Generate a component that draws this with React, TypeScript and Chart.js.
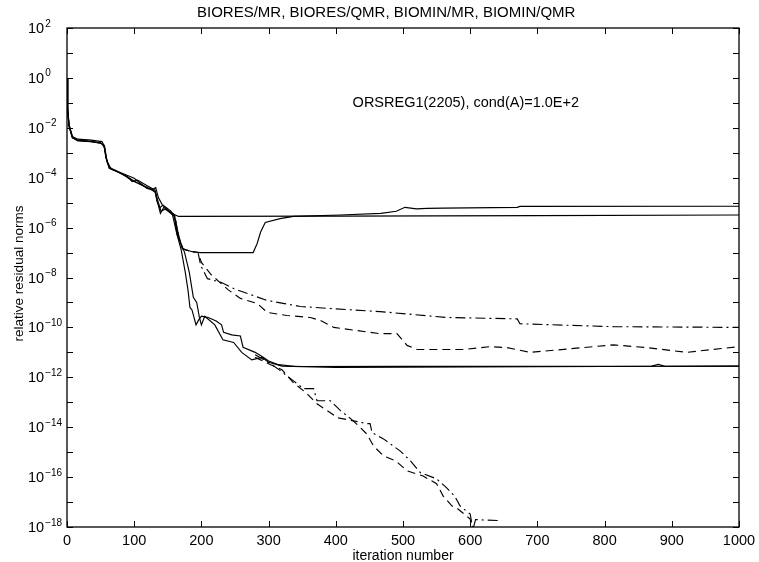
import React, { useEffect, useRef } from 'react';
import { Chart, registerables } from 'chart.js';

Chart.register(...registerables);

// ---------- text ----------
const titleText = 'BIORES/MR, BIORES/QMR, BIOMIN/MR, BIOMIN/QMR';
const xAxisLabel = 'iteration number';
const yAxisLabel = 'relative residual norms';
const noteText = 'ORSREG1(2205), cond(A)=1.0E+2';
const noteAt = { x: 425, y: 1e-1 };
const titleAtIter = 475;

// ---------- ticks ----------
const xTickValues = [0, 100, 200, 300, 400, 500, 600, 700, 800, 900, 1000];
const yLabelExponents = [2, 0, -2, -4, -6, -8, -10, -12, -14, -16, -18];
const yTickExponents = [2, 1, 0, -1, -2, -3, -4, -5, -6, -7, -8, -9, -10, -11, -12, -13, -14, -15, -16, -17, -18];

// ---------- series (iteration, relative residual norm) ----------
// solid: stagnates near 3e-6
const solidAIter = [0, 1, 3, 8, 16, 36, 50, 55, 58, 63, 70, 82, 100, 119, 131, 134, 139, 144, 150, 158, 166, 400, 700, 1000];
const solidAVal = [1, 5e-2, 1.26e-2, 4.2e-3, 3.2e-3, 2.9e-3, 2.5e-3, 2e-3, 6.6e-4, 2.4e-4, 2e-4, 1.5e-4, 9.5e-5, 3.7e-5, 3.2e-5, 1.26e-5, 3.7e-6, 6.5e-6, 4.9e-6, 3.5e-6, 2.8e-6, 2.9e-6, 3.0e-6, 3.2e-6];

// solid: dips to 1e-7 then rises to ~7e-6
const solidBIter = [0, 1, 3, 8, 16, 36, 52, 56, 59, 64, 75, 90, 97, 105, 118, 128, 132, 136, 142, 148, 155, 160, 164, 172, 185, 198, 277, 283, 288, 295, 317, 337, 407, 467, 490, 503, 520, 536, 560, 670, 674, 1000];
const solidBVal = [1, 6.3e-2, 1.4e-2, 4.5e-3, 3.5e-3, 3.2e-3, 2.8e-3, 1.8e-3, 5e-4, 2.5e-4, 1.8e-4, 1.1e-4, 7e-5, 8e-5, 5e-5, 3.5e-5, 4e-5, 1.6e-5, 8e-6, 6.3e-6, 4.5e-6, 2.5e-6, 5e-7, 1.4e-7, 1.1e-7, 1e-7, 1e-7, 2.3e-7, 6.5e-7, 1.6e-6, 2.3e-6, 2.8e-6, 3.2e-6, 3.7e-6, 4.5e-6, 6.5e-6, 5.6e-6, 5.9e-6, 6e-6, 6.5e-6, 7.1e-6, 7.2e-6];

// solid: stagnates near 2.8e-12
const solidCIter = [0, 1, 3, 8, 16, 36, 50, 55, 58, 63, 72, 85, 97, 110, 122, 131, 134, 138, 143, 150, 157, 163, 170, 176, 180, 183, 186, 192, 196, 200, 210, 222, 230, 233, 245, 258, 262, 280, 292, 300, 315, 340, 500, 700, 870, 880, 890, 1000];
const solidCVal = [1, 5.6e-2, 1.26e-2, 4e-3, 3.2e-3, 2.8e-3, 2.4e-3, 2e-3, 6.3e-4, 2.4e-4, 1.9e-4, 1.26e-4, 7.5e-5, 5.5e-5, 3.6e-5, 2.8e-5, 1.1e-5, 6.3e-6, 7.9e-6, 5e-6, 3.2e-6, 6.3e-7, 1.26e-7, 1.6e-8, 3.2e-9, 6.3e-10, 5e-10, 1.26e-10, 2e-10, 2.8e-10, 2.5e-10, 1.8e-10, 1.26e-10, 6.3e-11, 5e-11, 4.5e-11, 1.6e-11, 1e-11, 6.3e-12, 4.5e-12, 3.2e-12, 2.7e-12, 2.75e-12, 2.75e-12, 2.8e-12, 3.3e-12, 2.75e-12, 2.8e-12];

const solidDIter = [0, 1, 3, 8, 16, 36, 51, 56, 60, 66, 78, 92, 104, 115, 125, 132, 136, 140, 146, 153, 160, 165, 175, 182, 188, 193, 197, 200, 205, 220, 232, 248, 260, 275, 290, 300, 320, 400, 600, 800, 1000];
const solidDVal = [1, 5e-2, 1.1e-2, 4e-3, 3e-3, 2.75e-3, 2.4e-3, 1.6e-3, 4e-4, 2.2e-4, 1.6e-4, 1e-4, 6.3e-5, 4.5e-5, 3.5e-5, 2.5e-5, 1e-5, 4.5e-6, 5.6e-6, 4e-6, 3.2e-6, 5e-7, 1e-7, 1.6e-8, 1.6e-9, 1e-9, 2.5e-10, 1.26e-10, 2.8e-10, 1.26e-10, 3.2e-11, 2.5e-11, 1e-11, 5e-12, 6.3e-12, 4e-12, 2.8e-12, 2.5e-12, 2.6e-12, 2.7e-12, 2.8e-12];

// dash-dot: levels off near 1e-10
const dashDotUpperIter = [150, 160, 166, 172, 185, 195, 199, 209, 230, 248, 270, 298, 347, 396, 466, 565, 670, 674, 813, 1000];
const dashDotUpperVal = [5e-6, 3.2e-6, 5e-7, 1.4e-7, 1.1e-7, 1e-7, 3e-8, 9e-9, 6.3e-9, 3.6e-9, 2.2e-9, 1.2e-9, 6.9e-10, 5.6e-10, 4.3e-10, 2.5e-10, 2.2e-10, 1.4e-10, 1.07e-10, 1e-10];

// dashed: levels off near 1.5e-11
const dashedUpperIter = [150, 160, 166, 172, 185, 195, 200, 215, 240, 258, 283, 298, 327, 362, 377, 397, 466, 491, 506, 521, 590, 630, 655, 689, 750, 813, 863, 922, 1000];
const dashedUpperVal = [5e-6, 3.2e-6, 5e-7, 1.4e-7, 1.1e-7, 1e-7, 4e-8, 1.26e-8, 3.2e-9, 1.45e-9, 9.1e-10, 4e-10, 3e-10, 2.5e-10, 1.9e-10, 1e-10, 5.6e-11, 5.6e-11, 1.9e-11, 1.3e-11, 1.3e-11, 1.7e-11, 1.55e-11, 1e-11, 1.4e-11, 2e-11, 1.55e-11, 1e-11, 1.7e-11];

// dash-dot: keeps converging to 1e-18
const dashDotLowerIter = [280, 303, 317, 337, 352, 367, 372, 392, 407, 426, 446, 451, 454, 471, 496, 511, 526, 550, 565, 577, 585, 600, 604, 608, 620, 647];
const dashDotLowerVal = [8e-12, 3.5e-12, 1.9e-12, 7.2e-13, 3.5e-13, 3.5e-13, 1.15e-13, 1.15e-13, 4.6e-14, 1.8e-14, 1.4e-14, 1.4e-14, 6e-15, 3.4e-15, 1.1e-15, 4.5e-16, 1.5e-16, 8.5e-17, 3.7e-17, 1.7e-17, 6.9e-18, 3.3e-18, 8e-19, 2e-18, 1.9e-18, 1.8e-18];

// dashed: keeps converging to 1e-18
const dashedLowerIter = [280, 303, 320, 337, 355, 372, 392, 402, 426, 446, 456, 471, 489, 506, 530, 550, 560, 573, 580, 600, 604];
const dashedLowerVal = [6.3e-12, 3.2e-12, 2e-12, 6e-13, 2.5e-13, 8.7e-14, 3.8e-14, 2.4e-14, 1.8e-14, 5.4e-15, 1.8e-15, 7e-16, 4.5e-16, 1.8e-16, 1.1e-16, 5.4e-17, 1.7e-17, 6.9e-18, 5.8e-18, 2.1e-18, 5e-19];

const FONT = '"Liberation Sans", Arial, Helvetica, sans-serif';
const DASHED = [8, 5];
const DASHDOT = [10, 4, 2, 4];

const toPoints = (xs: number[], ys: number[]) => xs.map((x, i) => ({ x, y: ys[i] }));

const makeSet = (label: string, xs: number[], ys: number[], dash: number[]) => ({
  label,
  data: toPoints(xs, ys),
  borderColor: '#000',
  backgroundColor: '#000',
  borderWidth: 1.15,
  borderDash: dash,
  pointRadius: 0,
  pointHoverRadius: 0,
  fill: false,
  tension: 0,
});

const matlabAxes = {
  id: 'matlabAxes',
  afterDraw(chart: any) {
    const { ctx, chartArea: a, scales } = chart;
    const xs = scales.x;
    const ys = scales.y;
    const TL = 6;
    ctx.save();
    ctx.strokeStyle = '#000';
    ctx.fillStyle = '#000';
    ctx.setLineDash([]);
    const seg = (x1: number, y1: number, x2: number, y2: number) => {
      ctx.beginPath();
      ctx.moveTo(x1, y1);
      ctx.lineTo(x2, y2);
      ctx.stroke();
    };
    // frame
    ctx.lineWidth = 1.3;
    ctx.strokeRect(a.left, a.top, a.right - a.left, a.bottom - a.top);
    ctx.lineWidth = 1;
    // x ticks
    for (const v of xTickValues) {
      const px = Math.round(xs.getPixelForValue(v)) + 0.5;
      seg(px, a.bottom, px, a.bottom - TL);
      seg(px, a.top, px, a.top + TL);
    }
    // y ticks
    for (const e of yTickExponents) {
      const py = Math.round(ys.getPixelForValue(Math.pow(10, e))) + 0.5;
      seg(a.left, py, a.left + TL, py);
      seg(a.right, py, a.right - TL, py);
    }
    // x tick labels
    ctx.font = `14.5px ${FONT}`;
    ctx.textAlign = 'center';
    ctx.textBaseline = 'middle';
    for (const v of xTickValues) {
      ctx.fillText(String(v), xs.getPixelForValue(v), a.bottom + 14);
    }
    // y tick labels 10^e
    for (const e of yLabelExponents) {
      const py = ys.getPixelForValue(Math.pow(10, e));
      ctx.font = `14.5px ${FONT}`;
      ctx.textAlign = 'left';
      ctx.textBaseline = 'middle';
      ctx.fillText('10', 28, py + 1);
      const w = ctx.measureText('10').width;
      ctx.font = `10px ${FONT}`;
      ctx.textBaseline = 'alphabetic';
      const exp = e < 0 ? '\u2212' + String(-e) : String(e);
      ctx.fillText(exp, 28 + w + 1, py - 1.5);
    }
    // title
    ctx.font = `15px ${FONT}`;
    ctx.textAlign = 'center';
    ctx.textBaseline = 'alphabetic';
    ctx.fillText(titleText, xs.getPixelForValue(titleAtIter), 17);
    // annotation
    ctx.font = `14.5px ${FONT}`;
    ctx.textAlign = 'left';
    ctx.textBaseline = 'middle';
    ctx.fillText(noteText, xs.getPixelForValue(noteAt.x), ys.getPixelForValue(noteAt.y) + 0.5);
    // x axis label
    ctx.font = `14px ${FONT}`;
    ctx.textAlign = 'center';
    ctx.textBaseline = 'alphabetic';
    ctx.fillText(xAxisLabel, (a.left + a.right) / 2, 560);
    // y axis label
    ctx.font = `13.5px ${FONT}`;
    ctx.save();
    ctx.translate(23, (a.top + a.bottom) / 2 - 4);
    ctx.rotate(-Math.PI / 2);
    ctx.textAlign = 'center';
    ctx.textBaseline = 'alphabetic';
    ctx.fillText(yAxisLabel, 0, 0);
    ctx.restore();
    ctx.restore();
  },
};

export default function App() {
  const ref = useRef<HTMLCanvasElement>(null);
  useEffect(() => {
    const canvas = ref.current;
    if (!canvas) return;
    const chart = new Chart(canvas, {
      type: 'line',
      data: {
        datasets: [
          makeSet('solid A', solidAIter, solidAVal, []),
          makeSet('solid B', solidBIter, solidBVal, []),
          makeSet('solid C', solidCIter, solidCVal, []),
          makeSet('solid D', solidDIter, solidDVal, []),
          makeSet('dash-dot upper', dashDotUpperIter, dashDotUpperVal, DASHDOT),
          makeSet('dashed upper', dashedUpperIter, dashedUpperVal, DASHED),
          makeSet('dash-dot lower', dashDotLowerIter, dashDotLowerVal, DASHDOT),
          makeSet('dashed lower', dashedLowerIter, dashedLowerVal, DASHED),
        ] as any,
      },
      options: {
        responsive: false,
        animation: false,
        devicePixelRatio: 1,
        layout: { padding: { left: 67, right: 20, top: 28, bottom: 35 } },
        plugins: { legend: { display: false }, tooltip: { enabled: false }, title: { display: false } },
        events: [],
        scales: {
          x: { type: 'linear', min: 0, max: 1000, display: false },
          y: { type: 'logarithmic', min: 1e-18, max: 1e2, display: false },
        },
      } as any,
      plugins: [matlabAxes],
    });
    return () => chart.destroy();
  }, []);
  return (
    <div style={{ position: 'fixed', left: 0, top: 0, width: 759, height: 562, background: '#fff' }}>
      <canvas ref={ref} width={759} height={562} style={{ display: 'block' }} />
    </div>
  );
}
